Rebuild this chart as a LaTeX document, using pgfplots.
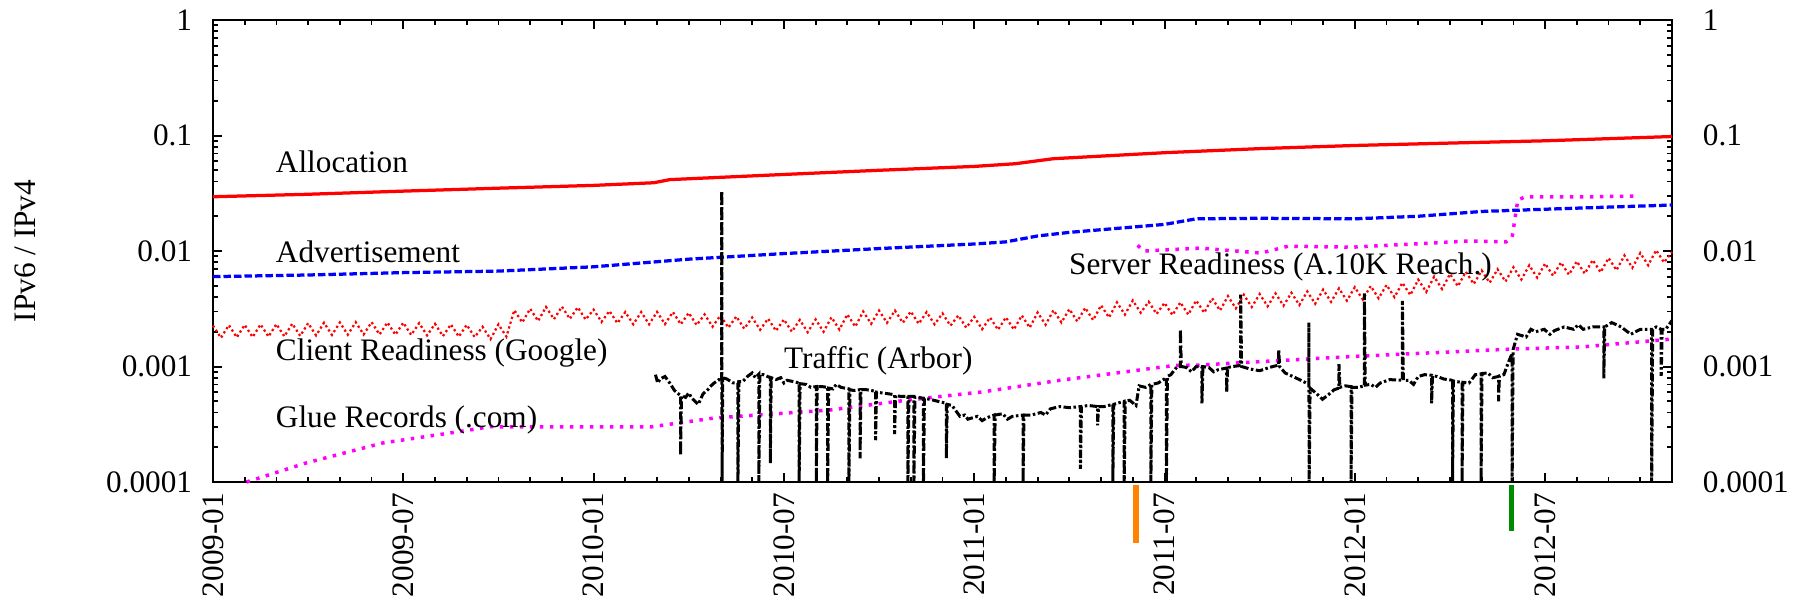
\documentclass[border=0pt]{standalone}
\usepackage{pgfplots}
\pgfplotsset{compat=1.18}
\usepackage{fontspec}
\setmainfont{Liberation Serif}
\definecolor{mred}{RGB}{255,0,0}
\definecolor{mblue}{RGB}{0,0,255}
\definecolor{mmag}{RGB}{255,0,255}
\definecolor{morange}{RGB}{255,130,0}
\definecolor{mgreen}{RGB}{0,140,0}
\begin{document}
\fontsize{12.5}{15}\selectfont
\begin{tikzpicture}
\begin{axis}[at={(0,0)}, anchor=south west,
  scale only axis, width=583.6pt, height=184.8pt,
  xmin=0, xmax=46, ymode=log, ymin=1e-4, ymax=1,
  axis x line=none, axis y line*=right,
  axis line style={draw=none},
  ytick={1e-4,1e-3,1e-2,1e-1,1},
  yticklabels={\textrm{0.0001},\textrm{0.001},\textrm{0.01},\textrm{0.1},\textrm{1}},
  major tick length=0pt, minor tick length=0pt,
  yticklabel style={xshift=8pt, font=\fontsize{12.5}{15}\selectfont},
]
\addplot[draw=none] coordinates {(1,1e-3)};
\end{axis}
\begin{axis}[name=main, at={(0,0)}, anchor=south west,
  scale only axis, width=583.6pt, height=184.8pt,
  xmin=0, xmax=46, ymode=log, ymin=1e-4, ymax=1,
  xtick={0,6,...,42},
  xticklabels={\textrm{2009-01},\textrm{2009-07},\textrm{2010-01},\textrm{2010-07},\textrm{2011-01},\textrm{2011-07},\textrm{2012-01},\textrm{2012-07}},
  minor xtick={1,...,45},
  ytick={1e-4,1e-3,1e-2,1e-1,1},
  yticklabels={\textrm{0.0001},\textrm{0.001},\textrm{0.01},\textrm{0.1},\textrm{1}},
  minor ytick={2e-4,3e-4,4e-4,5e-4,6e-4,7e-4,8e-4,9e-4,
    2e-3,3e-3,4e-3,5e-3,6e-3,7e-3,8e-3,9e-3,
    2e-2,3e-2,4e-2,5e-2,6e-2,7e-2,8e-2,9e-2,
    0.2,0.3,0.4,0.5,0.6,0.7,0.8,0.9},
  xtick pos=both, ytick pos=both,
  tick align=inside,
  major tick length=3.6pt, minor tick length=2pt,
  major tick style={draw=black, line width=0.8pt},
  minor tick style={draw=black, line width=0.7pt},
  axis line style={line width=0.8pt},
  xticklabel style={rotate=90, anchor=east, font=\fontsize{12.5}{15}\selectfont},
  yticklabel style={xshift=-4pt, font=\fontsize{12.5}{15}\selectfont},
  clip=false,
]
% Allocation
\addplot[mred, line width=1.3pt] coordinates {
(0,0.0295) (3,0.031) (6,0.033) (9,0.035) (12,0.037) (13.9,0.039) (14.4,0.0415)
(18,0.046) (21,0.050) (24,0.054) (25.3,0.057) (26.5,0.063) (30,0.071)
(33,0.077) (36,0.082) (39,0.086) (42,0.090) (46,0.098)};
% Advertisement
\addplot[mblue, line width=1.3pt, dash pattern=on 3pt off 1.2pt] coordinates {
(0,0.0060) (3,0.0062) (6,0.0065) (9,0.0067) (12,0.0073) (15,0.0085) (18,0.0095)
(21,0.0105) (24,0.0115) (25,0.0120) (26,0.0135) (27,0.0145) (30,0.0170)
(31,0.0190) (33,0.0192) (36,0.0190) (38,0.0200) (40,0.0220) (42,0.0230)
(44,0.0240) (46,0.0250)};
% Server Readiness
\addplot[mmag, line width=1.4pt, dash pattern=on 1.4pt off 2.6pt] coordinates {
(29.15,0.0112) (29.35,0.0100) (31.12,0.0106) (33.04,0.0096) (33.89,0.0110)
(35.94,0.0108) (38.37,0.0117) (39.57,0.0122) (40.77,0.0120) (40.96,0.0132)
(41.14,0.0277) (41.37,0.0294) (43.2,0.0294) (44.87,0.0299)};
% Client Readiness (Google)
\addplot[mred, line width=0.9pt, dash pattern=on 0.9pt off 1.1pt] coordinates {
(0,0.00226) (0.25,0.00177) (0.5,0.002283) (0.75,0.001788) (1,0.002294) (1.25,0.001797)
(1.5,0.002317) (1.75,0.001814) (2,0.002328) (2.25,0.001823) (2.5,0.00235) (2.75,0.001841)
(3,0.002373) (3.25,0.001859) (3.5,0.002396) (3.75,0.001876) (4,0.002407) (4.25,0.001885)
(4.5,0.002418) (4.75,0.001894) (5,0.002418) (5.25,0.001894) (5.5,0.002407) (5.75,0.001885)
(6,0.002396) (6.25,0.001876) (6.5,0.002373) (6.75,0.001859) (7,0.002339) (7.25,0.001832)
(7.5,0.002317) (7.75,0.001814) (8,0.002294) (8.25,0.001797) (8.5,0.002204) (8.75,0.001726)
(9,0.002317) (9.25,0.001814) (9.5,0.003074) (9.75,0.002407) (10,0.003164) (10.25,0.002478)
(10.5,0.003277) (10.75,0.002567) (11,0.0033) (11.25,0.002584) (11.5,0.003254) (11.75,0.002549)
(12,0.003108) (12.25,0.002434) (12.5,0.003028) (12.75,0.002372) (13,0.002961) (13.25,0.002319)
(13.5,0.002961) (13.75,0.002319) (14,0.002972) (14.25,0.002328) (14.5,0.002961) (14.75,0.002319)
(15,0.002915) (15.25,0.002283) (15.5,0.002825) (15.75,0.002213) (16,0.002769) (16.25,0.002168)
(16.5,0.002712) (16.75,0.002124) (17,0.002656) (17.25,0.00208) (17.5,0.002599) (17.75,0.002036)
(18,0.002554) (18.25,0.002) (18.5,0.002531) (18.75,0.001982) (19,0.002554) (19.25,0.002)
(19.5,0.002667) (19.75,0.002089) (20,0.002825) (20.25,0.002213) (20.5,0.002995) (20.75,0.002345)
(21,0.003051) (21.25,0.00239) (21.5,0.003051) (21.75,0.00239) (22,0.002995) (22.25,0.002345)
(22.5,0.002961) (22.75,0.002319) (23,0.002882) (23.25,0.002257) (23.5,0.002769) (23.75,0.002168)
(24,0.002689) (24.25,0.002106) (24.5,0.002656) (24.75,0.00208) (25,0.002667) (25.25,0.002089)
(25.5,0.002769) (25.75,0.002168) (26,0.002938) (26.25,0.002301) (26.5,0.003074) (26.75,0.002407)
(27,0.003141) (27.25,0.00246) (27.5,0.003221) (27.75,0.002522) (28,0.00339) (28.25,0.002655)
(28.5,0.003593) (28.75,0.002814) (29,0.003729) (29.25,0.002921) (29.5,0.003639) (29.75,0.00285)
(30,0.00356) (30.25,0.002788) (30.5,0.003593) (30.75,0.002814) (31,0.003729) (31.25,0.002921)
(31.5,0.003899) (31.75,0.003053) (32,0.004068) (32.25,0.003186) (32.5,0.004181) (32.75,0.003275)
(33,0.004238) (33.25,0.003319) (33.5,0.004294) (33.75,0.003363) (34,0.004351) (34.25,0.003407)
(34.5,0.004464) (34.75,0.003496) (35,0.004633) (35.25,0.003629) (35.5,0.004746) (35.75,0.003717)
(36,0.004859) (36.25,0.003806) (36.5,0.004972) (36.75,0.003894) (37,0.005085) (37.25,0.003983)
(37.5,0.005311) (37.75,0.00416) (38,0.00565) (38.25,0.004425) (38.5,0.005989) (38.75,0.004691)
(39,0.006328) (39.25,0.004956) (39.5,0.00661) (39.75,0.005177) (40,0.00678) (40.25,0.00531)
(40.5,0.00695) (40.75,0.005443) (41,0.007232) (41.25,0.005664) (41.5,0.007515) (41.75,0.005885)
(42,0.007797) (42.25,0.006107) (42.5,0.007967) (42.75,0.006239) (43,0.008136) (43.25,0.006372)
(43.5,0.008362) (43.75,0.006549) (44,0.008701) (44.25,0.006815) (44.5,0.009153) (44.75,0.007169)
(45,0.009605) (45.25,0.007523) (45.5,0.01017) (45.75,0.007965) (46,0.0098)};
% Glue Records (.com)
\addplot[mmag, line width=1.4pt, dash pattern=on 1.4pt off 2.6pt] coordinates {
(1.06,0.0001) (2.93,0.000146) (5.36,0.000218) (7.76,0.000273) (8.73,0.000301)
(12.1,0.0003) (13.8,0.0003) (15.8,0.000358) (19.45,0.00042) (21.85,0.00051)
(24.3,0.000605) (26.7,0.00076) (30.3,0.00102) (31.1,0.00103) (35.9,0.00122)
(40.8,0.00141) (43.2,0.00148) (45.9,0.00172)};
% Traffic (Arbor)
\addplot[black, line width=1.2pt, dash pattern=on 3pt off 1pt on 1pt off 1pt] coordinates {
(13.95,0.00085) (14.02,0.00072) (14.1,0.00078) (14.25,0.00082) (14.4,0.00072) (14.55,0.00062)
(14.74,0.00056) (14.74,0.00017) (14.77,0.00056) (14.9,0.00054) (15.0,0.00059) (15.1,0.00053)
(15.3,0.00047) (15.45,0.00058) (15.6,0.00063) (15.7,0.00068) (15.8,0.00072) (15.95,0.00077)
(16.04,0.00075) (16.04,0.033) (16.05,0.0001) (16.07,0.0008) (16.2,0.00078)
(16.4,0.00072) (16.55,0.00072) (16.55,0.0001) (16.58,0.00074) (16.7,0.00074)
(16.85,0.00082) (17.0,0.00088) (17.1,0.0008) (17.21,0.00086) (17.21,0.0001) (17.24,0.00085)
(17.35,0.00085) (17.57,0.0008) (17.57,0.000145) (17.6,0.0008) (17.75,0.00077)
(17.9,0.0008) (18.0,0.00072) (18.1,0.00076) (18.3,0.00074) (18.48,0.00072) (18.48,0.0001)
(18.51,0.00071) (18.7,0.0007) (18.85,0.00066) (19.02,0.00067) (19.02,0.0001)
(19.05,0.00067) (19.2,0.00067) (19.38,0.00066) (19.38,0.0001) (19.41,0.00065)
(19.55,0.00064) (19.65,0.0007) (19.8,0.00066) (20.05,0.00064) (20.05,0.0001) (20.08,0.00063)
(20.2,0.00062) (20.4,0.00063) (20.4,0.00016) (20.43,0.00063) (20.6,0.00063)
(20.89,0.00061) (20.89,0.00023) (20.92,0.0006) (21.1,0.00059) (21.3,0.00058)
(21.49,0.00057) (21.49,0.00026) (21.52,0.00056) (21.7,0.00055) (21.91,0.00055)
(21.91,0.0001) (21.94,0.00055) (22.1,0.00055) (22.1,0.0001) (22.13,0.00054)
(22.25,0.00054) (22.4,0.00053) (22.4,0.0001) (22.43,0.00053) (22.6,0.00052)
(22.85,0.0005) (23.12,0.00048) (23.12,0.00016) (23.15,0.00047) (23.3,0.00046)
(23.55,0.00037) (23.7,0.00038) (23.8,0.00035) (24.1,0.00037) (24.25,0.00034) (24.4,0.00036) (24.63,0.00038)
(24.63,0.0001) (24.66,0.00038) (24.9,0.00039) (25.05,0.00035) (25.2,0.00037) (25.54,0.00038)
(25.54,0.0001) (25.57,0.00038) (25.8,0.00038) (26.1,0.0004) (26.25,0.00038) (26.4,0.00043)
(26.7,0.00045) (27.0,0.00044) (27.35,0.00045) (27.35,0.00013) (27.38,0.00045)
(27.6,0.00046) (27.89,0.00045) (27.89,0.00031) (27.92,0.00045) (28.1,0.00045)
(28.37,0.00047) (28.37,0.0001) (28.4,0.00047) (28.5,0.00048) (28.73,0.0005)
(28.73,0.0001) (28.76,0.0005) (28.9,0.00051) (29.1,0.00046) (29.2,0.00068)
(29.4,0.00066) (29.57,0.0007) (29.57,0.0001) (29.6,0.0007) (29.8,0.00072)
(30.06,0.0008) (30.06,0.0001) (30.09,0.00082) (30.2,0.00085) (30.4,0.001)
(30.5,0.001) (30.5,0.0021) (30.53,0.001) (30.7,0.00098) (30.85,0.0009) (31.0,0.001)
(31.18,0.001) (31.18,0.00048) (31.21,0.001) (31.4,0.00098) (31.55,0.0009) (31.7,0.00094)
(31.96,0.00097) (31.96,0.0006) (31.99,0.00098) (32.15,0.001) (32.4,0.00102)
(32.4,0.0042) (32.43,0.001) (32.7,0.00095) (33.0,0.00092) (33.3,0.00098)
(33.6,0.00103) (33.6,0.0014) (33.63,0.001) (33.8,0.00088) (34.0,0.00083)
(34.3,0.00076) (34.55,0.0007) (34.55,0.0024) (34.56,0.0001) (34.59,0.00065)
(34.8,0.00058) (34.98,0.00052) (35.2,0.00058) (35.35,0.00063) (35.5,0.00065)
(35.5,0.00105) (35.53,0.00066) (35.7,0.00068) (35.88,0.00067) (35.88,0.0001)
(35.91,0.00066) (36.1,0.00066) (36.3,0.00068) (36.3,0.0043) (36.33,0.00069)
(36.5,0.0007) (36.65,0.00066) (36.8,0.00072) (37.1,0.00077) (37.5,0.00076) (37.5,0.0037)
(37.53,0.00076) (37.7,0.00076) (37.85,0.0007) (38.0,0.00082) (38.2,0.00085) (38.42,0.00084)
(38.42,0.00048) (38.45,0.00083) (38.6,0.00082) (38.8,0.00078) (39.08,0.00076)
(39.08,0.0001) (39.11,0.00075) (39.2,0.00074) (39.38,0.00073) (39.38,0.0001)
(39.41,0.00073) (39.6,0.00072) (39.8,0.00085) (39.98,0.00086) (39.98,0.0001)
(40.01,0.00087) (40.2,0.00088) (40.35,0.0008) (40.53,0.00082) (40.53,0.0005)
(40.56,0.00083) (40.7,0.00085) (40.85,0.0011) (40.96,0.0013) (40.96,0.0001)
(40.99,0.0014) (41.05,0.0016) (41.13,0.0019) (41.4,0.0018) (41.55,0.0021) (41.7,0.002)
(41.97,0.0021) (42.15,0.0019) (42.3,0.00205) (42.6,0.0022) (42.9,0.0021) (43.05,0.0023) (43.2,0.0021)
(43.5,0.0022) (43.85,0.0022) (43.85,0.00079) (43.88,0.0022) (44.1,0.0024)
(44.4,0.0022) (44.7,0.0019) (45.0,0.0021) (45.36,0.0021) (45.36,0.0001)
(45.39,0.0021) (45.5,0.0022) (45.66,0.0021) (45.66,0.00083) (45.69,0.0021)
(45.8,0.0021) (46.0,0.0025)};
% event marks below axis
\addplot[morange, line width=2.1pt] coordinates {(29.1,9.5e-5) (29.1,2.96e-5)};
\addplot[mgreen, line width=2.1pt] coordinates {(40.93,9.5e-5) (40.93,3.77e-5)};
% labels
\node[anchor=base west, inner sep=0pt] at (axis cs:1.97,0.0483) {Allocation};
\node[anchor=base west, inner sep=0pt] at (axis cs:1.97,0.00803) {Advertisement};
\node[anchor=base west, inner sep=0pt] at (axis cs:1.97,0.001138) {Client Readiness (Google)};
\node[anchor=base west, inner sep=0pt] at (axis cs:1.97,0.000294) {Glue Records (.com)};
\node[anchor=base west, inner sep=0pt] at (axis cs:17.99,0.00097) {Traffic (Arbor)};
\node[anchor=base west, inner sep=0pt] at (axis cs:26.98,0.0062) {Server Readiness (A.10K Reach.)};
\end{axis}
\node[rotate=90] at ([xshift=-75.2pt]main.west) {IPv6 / IPv4};
\pgfresetboundingbox
\path[use as bounding box] ([shift={(-85.2pt,-48pt)}]main.south west) rectangle ([shift={(51.6pt,8pt)}]main.north east);
\end{tikzpicture}
\end{document}
